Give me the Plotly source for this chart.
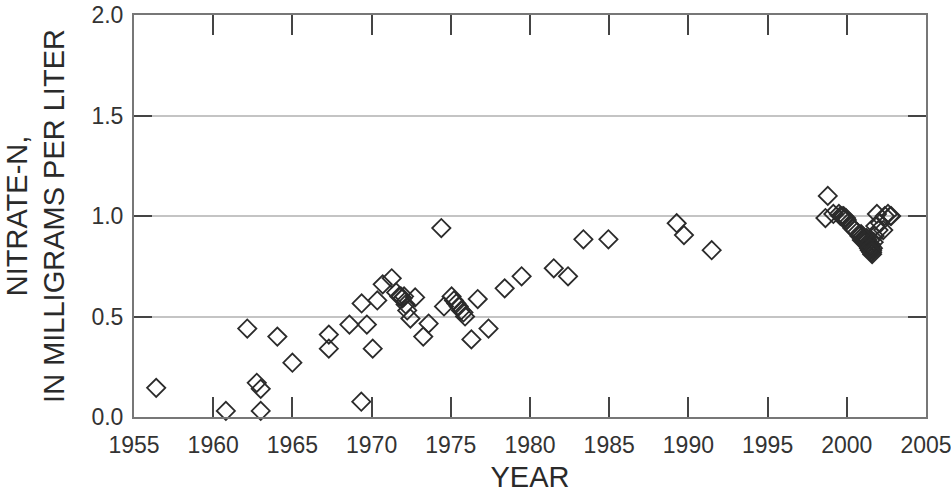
import plotly.graph_objects as go

years = [
    1956.4, 1960.8, 1962.15, 1962.75, 1963.0, 1963.0, 1964.05, 1965.0,
    1967.3, 1967.3, 1968.6, 1969.35, 1969.37, 1969.7, 1970.07, 1970.36,
    1970.7, 1971.27, 1971.55, 1971.75, 1971.85, 1971.95, 1972.05, 1972.15,
    1972.25, 1972.45, 1972.75, 1973.26, 1973.6,
    1974.4, 1974.57, 1975.05, 1975.2, 1975.35, 1975.5, 1975.65, 1975.8,
    1975.9, 1976.3, 1976.7, 1977.38, 1978.4, 1979.47,
    1981.5, 1982.4, 1983.37, 1984.95, 1989.26, 1989.72, 1991.47,
    1998.8, 1998.65, 1999.15, 1999.5, 1999.6, 1999.7, 1999.85, 2000.0,
    2000.2, 2000.35, 2000.5, 2000.65, 2000.8, 2000.95, 2001.05, 2001.15,
    2001.25, 2001.3, 2001.35, 2001.4, 2001.45, 2001.5, 2001.55, 2001.6,
    2001.65, 2001.7, 2001.75, 2001.8, 2001.9, 2002.0, 2002.1, 2002.3,
    2002.4, 2002.6, 2002.75, 2002.8,
    2001.2, 2001.3, 2001.4, 2001.45, 2001.5, 2001.55, 2001.6, 2001.35,
    2001.25, 2001.5, 2000.9, 2001.0, 1999.8, 1999.95, 2001.45, 2001.6,
]
nitrate = [
    0.145, 0.03, 0.44, 0.17, 0.14, 0.03, 0.40, 0.27,
    0.41, 0.34, 0.46, 0.076, 0.565, 0.46, 0.34, 0.58,
    0.66, 0.69, 0.62, 0.60, 0.60, 0.59, 0.60, 0.56,
    0.53, 0.49, 0.595, 0.40, 0.465,
    0.94, 0.55, 0.60, 0.58, 0.565, 0.55, 0.53, 0.52,
    0.50, 0.386, 0.587, 0.44, 0.64, 0.70,
    0.74, 0.70, 0.884, 0.884, 0.964, 0.905, 0.83,
    1.10, 0.99, 1.01, 1.01, 1.00, 1.00, 0.99, 0.98,
    0.955, 0.94, 0.93, 0.92, 0.90, 0.88, 0.89, 0.87,
    0.86, 0.88, 0.85, 0.84, 0.86, 0.83, 0.85, 0.81,
    0.84, 0.87, 0.90, 0.95, 1.01, 0.93, 0.965, 0.93,
    1.00, 1.01, 1.00, 1.00,
    0.88, 0.86, 0.85, 0.83, 0.84, 0.82, 0.83, 0.87,
    0.89, 0.86, 0.91, 0.90, 1.00, 0.99, 0.84, 0.82,
]

x_ticks = [1955, 1960, 1965, 1970, 1975, 1980, 1985, 1990, 1995, 2000, 2005]
y_ticks = [0.0, 0.5, 1.0, 1.5, 2.0]
y_tick_labels = ["0.0", "0.5", "1.0", "1.5", "2.0"]

font_family = "Liberation Sans, Arial, Helvetica, sans-serif"

fig = go.Figure()
fig.add_trace(go.Scatter(
    x=years, y=nitrate, mode="markers",
    marker=dict(symbol="diamond-open", size=14, color="#2b2b2b",
                line=dict(width=1.8, color="#2b2b2b")),
    cliponaxis=False, showlegend=False,
))

fig.update_layout(
    width=951, height=495,
    margin=dict(l=134, r=25, t=15, b=78, autoexpand=False),
    paper_bgcolor="white", plot_bgcolor="white",
    font=dict(family=font_family, color="#2a2a2a"),
    xaxis=dict(
        range=[1955, 2005], tickvals=x_ticks,
        ticktext=[str(v) for v in x_ticks],
        ticks="inside", ticklen=20, tickwidth=2, tickcolor="#444",
        showline=True, linecolor="#777", linewidth=2, mirror="allticks",
        showgrid=False, zeroline=False, automargin=False,
        ticklabeloverflow="allow", ticklabelstandoff=6,
        tickfont=dict(size=23, color="#333"),
        title=dict(text="YEAR", font=dict(size=29, color="#2a2a2a"), standoff=10),
    ),
    yaxis=dict(
        range=[0, 2], tickvals=y_ticks, ticktext=y_tick_labels,
        ticks="inside", ticklen=18, tickwidth=2, tickcolor="#444",
        showline=True, linecolor="#777", linewidth=2, mirror="allticks",
        showgrid=True, gridcolor="#c4c4c4", gridwidth=2, zeroline=False,
        automargin=False, ticklabelstandoff=4,
        tickfont=dict(size=23, color="#333"),
        title=dict(text="NITRATE-N,<br>IN MILLIGRAMS PER LITER",
                   font=dict(size=29, color="#2a2a2a"), standoff=18),
    ),
)

fig.write_html("out.html")
